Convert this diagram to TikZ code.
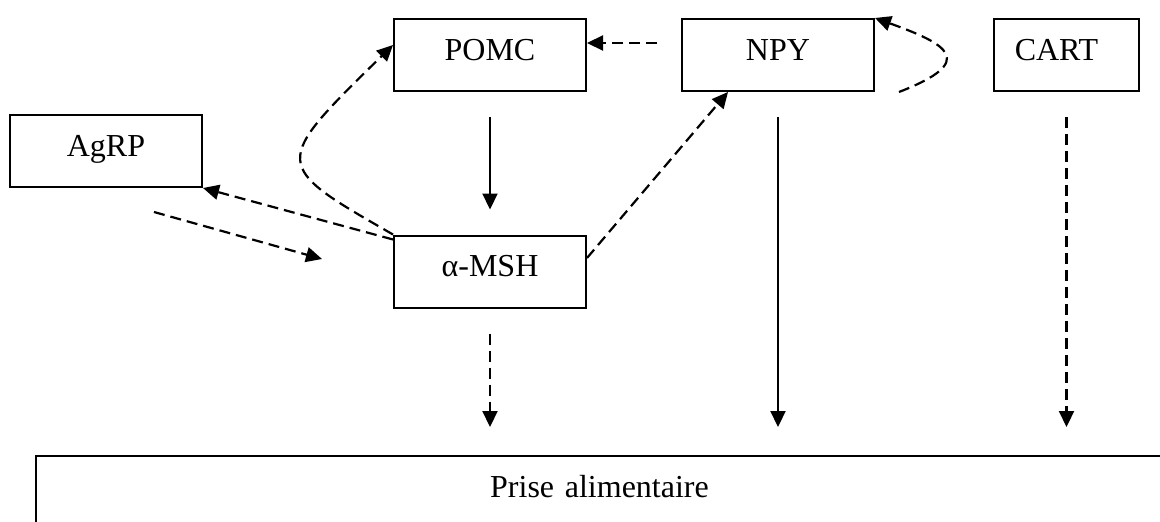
\documentclass[tikz,border=0pt]{standalone}
\usepackage{fontspec}
\setmainfont{Liberation Serif}
\usetikzlibrary{arrows.meta,calc}
\begin{document}
\begin{tikzpicture}[x=1pt,y=-1pt,
  every node/.style={font=\fontsize{32}{38}\selectfont},
  box/.style={draw,line width=2pt,inner sep=0pt,text height=41pt,text depth=31pt,align=center},
  link/.style={line width=2.2pt,-{Triangle[length=16pt,width=15pt]}},
  dlink/.style={link,dash pattern=on 11pt off 6pt}]
\useasboundingbox (0,0) rectangle (1160,522);

% peptide boxes
\node[box,text width=192pt] (pomc) at (490,55) {POMC};
\node[box,text width=192pt] (npy)  at (778,55) {NPY};
\node[box,text width=145pt] (cart) at (1066.5,55) {CART\kern20pt};
\node[box,text width=192pt] (agrp) at (106,151) {AgRP};
\node[box,text width=192pt] (msh)  at (490,271.5) {α-MSH};
\node[box,anchor=north west,text width=1127pt,text depth=60pt] (prise) at (35,455) {Prise alimentaire};

% free ends
\coordinate (loopstart) at ($(npy.south east)+(24,0)$);
\coordinate (agout) at (154,212);
\coordinate (agin) at (322,259);

% solid connectors
\draw[link] ([yshift=-25pt]pomc.south) -- ([yshift=25pt]msh.north);
\draw[link] ([yshift=-25pt]npy.south) -- ($(npy.south |- prise.north)+(0,-28)$);

% dashed connectors
\draw[dlink] ([xshift=-24pt,yshift=12pt]npy.west) -- ([yshift=12pt]pomc.east);
\draw[dlink] (loopstart) .. controls +(80,-31) and +(72,26) .. (npy.north east);
\draw[dlink] ([yshift=13.5pt]msh.east) -- ([xshift=-50pt]npy.south);
\draw[dlink] ([yshift=-5pt]msh.north west) -- (agrp.south east);
\draw[dlink] (msh.north west) .. controls +(-122,-70) .. ([yshift=10pt]pomc.west);
\draw[dlink] (agout) -- (agin);
\draw[dlink] ([yshift=-25pt]msh.south) -- ($(msh.south |- prise.north)+(0,-28)$);
\draw[dlink] ([yshift=-25pt]cart.south) -- ($(cart.south |- prise.north)+(0,-28)$);
\end{tikzpicture}
\end{document}
